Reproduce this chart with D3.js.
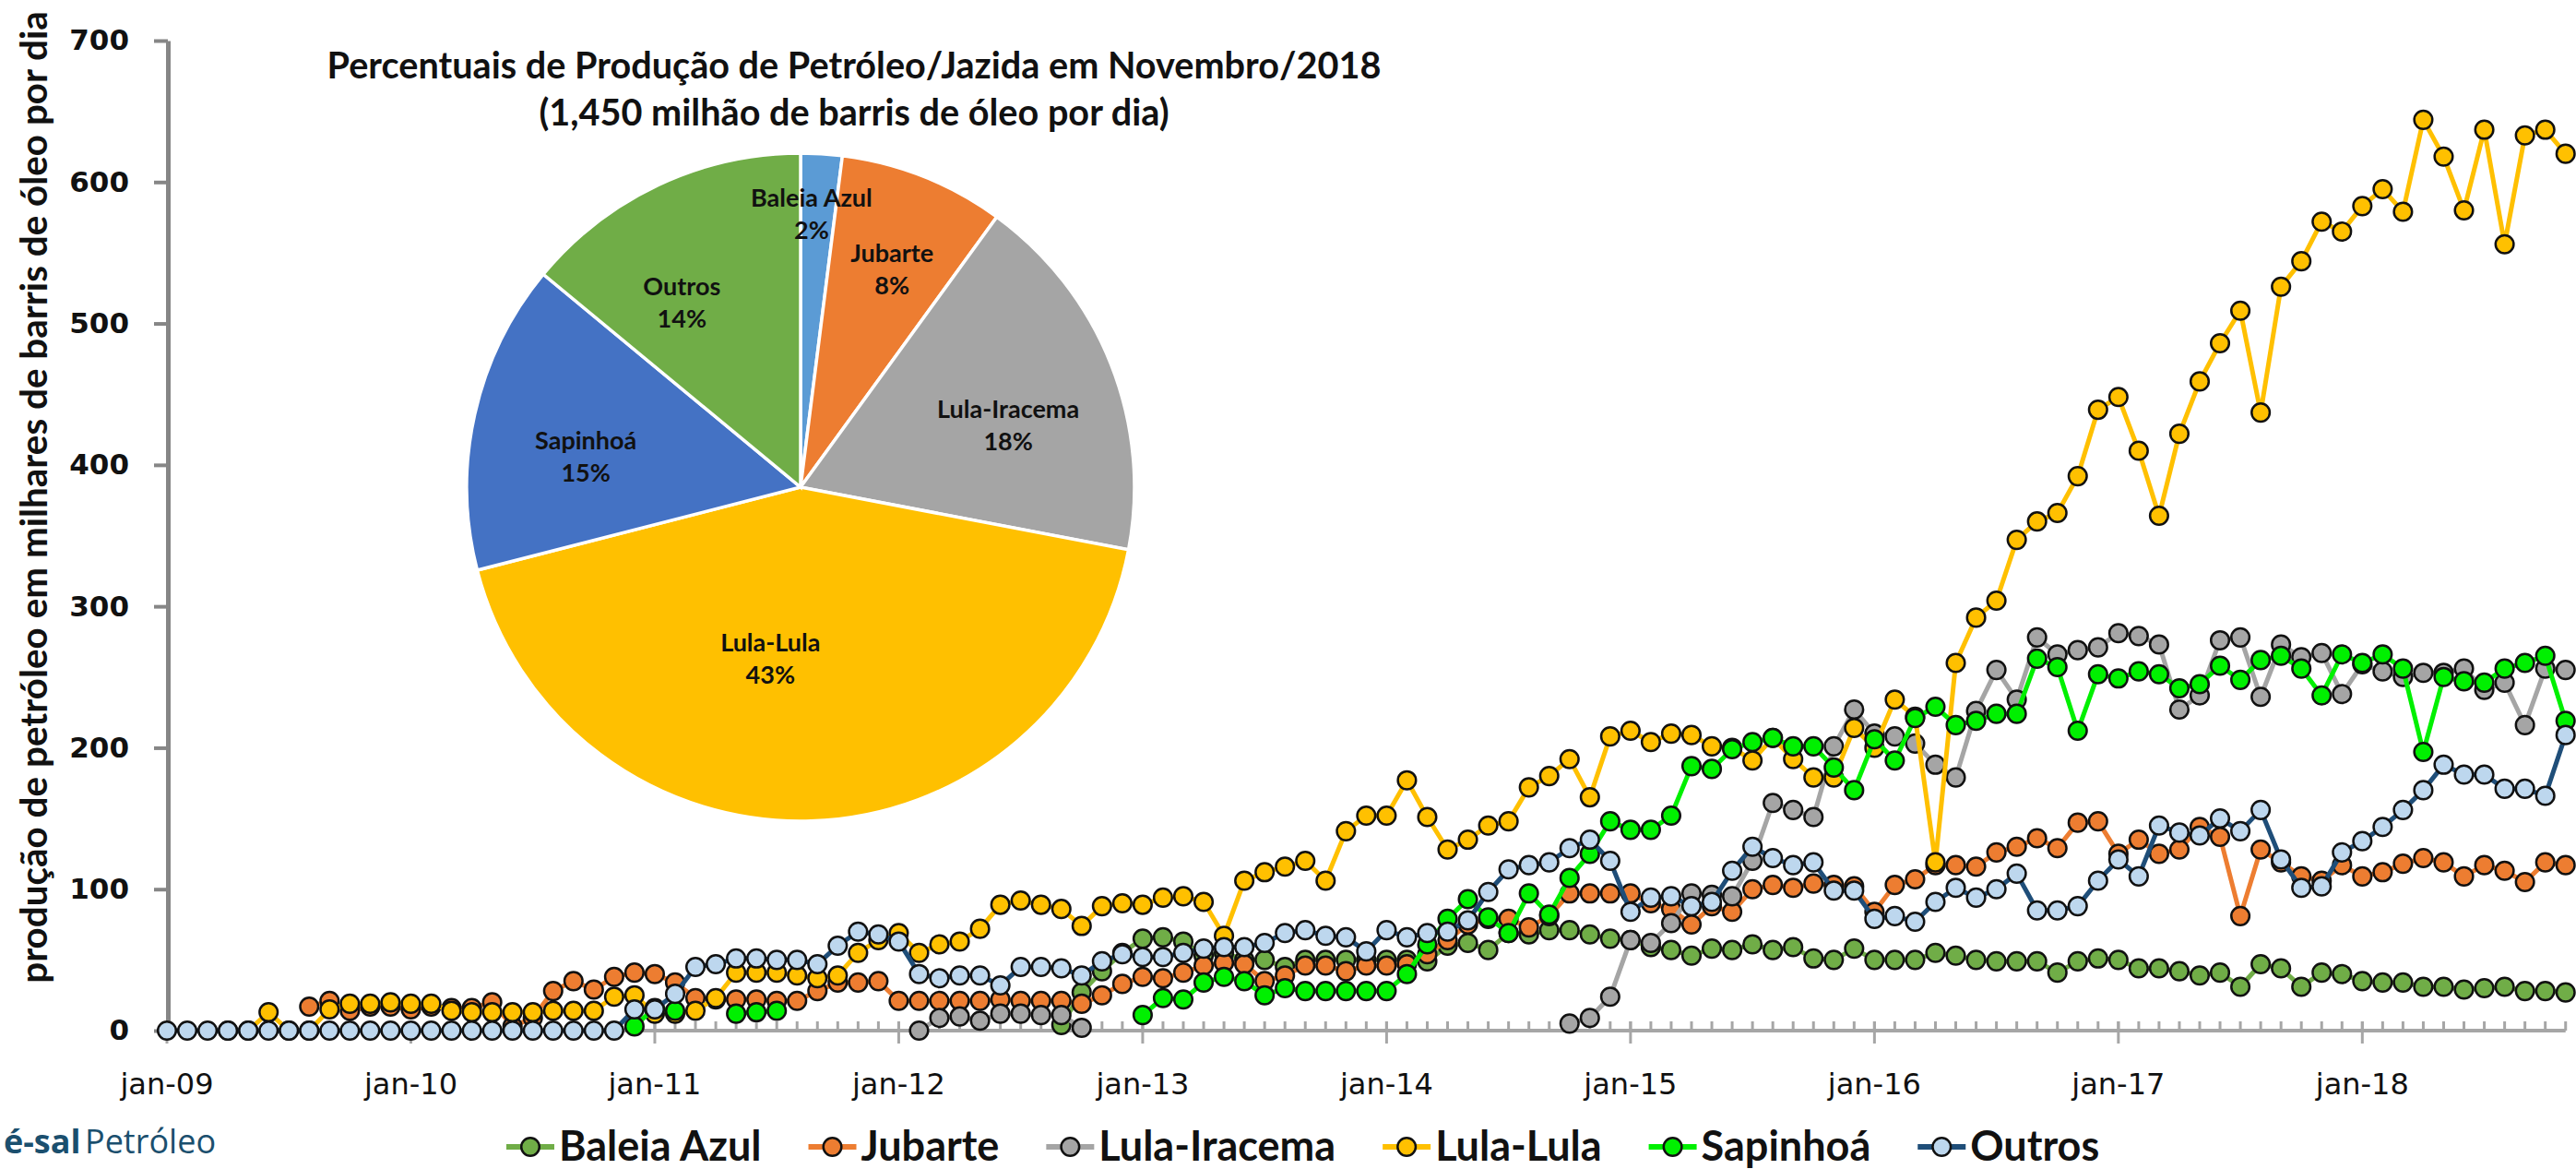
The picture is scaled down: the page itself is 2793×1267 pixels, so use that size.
<!DOCTYPE html>
<html><head><meta charset="utf-8">
<script src="https://cdn.jsdelivr.net/npm/d3@7/dist/d3.min.js"></script>
<style>body{margin:0;background:#fff;} svg{display:block;}</style>
</head><body>
<svg id="chart" width="2793" height="1267"></svg>
<script>
// ---------------- DATA ----------------
// months: jan-09 (0) .. nov-18 (118)
const monthCount = 119;
const xTickLabels = ["jan-09","jan-10","jan-11","jan-12","jan-13","jan-14","jan-15","jan-16","jan-17","jan-18"];
const yTicks = [0,100,200,300,400,500,600,700];
const seriesNames = ["Baleia Azul","Jubarte","Lula-Iracema","Lula-Lula","Sapinhoá","Outros"];

const baleiaAzul = [...Array(44).fill(null),
  4,27,42,55,65,66,63,53,55,50,
  50,45,50,50,50,50,50,50,49,60,
  62,57,69,68,71,71,68,65,64,59,
  57,53,58,57,61,57,59,51,50,58,
  50,50,50,55,53,50,49,49,49,41,
  49,51,50,44,44,42,39,41,31,47,
  44,31,41,40,35,34,34,31,31,29,
  30,31,28,28,27];
const jubarte = [...Array(7).fill(null),
  17,21,14,17,17,15,17,16,16,20,
  3,9,28,35,29,38,41,40,34,23,
  22,22,22,21,21,28,34,34,35,21,
  21,21,21,21,22,21,21,21,19,25,
  33,38,37,41,46,48,47,35,39,46,
  46,42,46,46,47,54,64,75,79,79,
  73,81,97,97,97,97,90,86,75,88,
  84,100,103,101,104,103,102,84,103,107,
  117,117,116,126,130,136,129,147,148,125,
  135,125,128,144,137,81,128,119,109,106,
  117,109,112,118,122,119,109,117,113,105,
  119,117];
const lulaIracema = [...Array(37).fill(null),
  0,9,10,7,12,12,11,11,2,
  ...Array(23).fill(null),
  5,9,24,64,62,76,97,96,95,120,
  161,156,151,201,227,210,208,203,188,179,
  226,255,234,278,266,269,271,281,279,273,
  227,237,276,278,236,273,264,267,238,259,
  254,250,253,253,256,241,246,216,256,255];
const lulaLula = [null,null,null,
  0,0,13,0,0,15,19,19,20,19,
  19,14,13,13,13,13,14,14,14,24,
  25,12,12,14,23,41,41,41,39,37,
  39,55,64,69,55,61,63,72,89,92,
  89,86,74,88,90,89,94,95,91,67,
  106,112,116,120,106,141,152,152,177,151,
  128,135,145,148,172,180,192,165,208,212,
  204,210,209,201,200,191,207,192,179,179,
  214,200,234,222,119,260,292,304,347,360,
  366,392,439,448,410,364,422,459,486,509,
  437,526,544,572,565,583,595,579,644,618,
  580,637,556,633,637,620];
const sapinhoa = [...Array(23).fill(null),
  3,16,14,null,null,12,13,14,
  ...Array(17).fill(null),
  11,23,22,34,38,35,25,30,28,28,
  28,28,28,40,61,79,93,80,69,97,
  82,108,125,148,142,142,152,187,185,199,
  204,207,201,201,186,170,206,191,221,229,
  216,219,224,224,263,257,212,252,249,254,
  252,242,245,258,248,262,265,256,237,266,
  260,266,256,197,250,247,246,256,260,265,219];
const outros = [0,0,0,0,0,0,0,0,0,0,0,0,0,0,0,0,0,0,0,0,0,0,0,
  15,15,26,45,47,51,51,50,50,47,
  60,70,68,63,40,37,39,39,32,45,
  45,44,39,49,54,52,52,55,58,59,
  59,62,69,71,67,66,56,71,66,69,
  70,78,98,114,117,119,129,135,120,84,
  94,95,88,91,113,130,122,117,119,99,
  99,79,81,77,91,101,94,100,111,85,
  85,88,106,121,109,145,140,138,150,141,
  156,121,101,102,126,134,144,156,170,188,
  181,181,171,171,166,209];

const pieNames = ["Baleia Azul","Jubarte","Lula-Iracema","Lula-Lula","Sapinhoá","Outros"];
const pieValues = [2,8,18,43,15,14];
const pieTitle1 = "Percentuais de Produção de Petróleo/Jazida em Novembro/2018";
const pieTitle2 = "(1,450 milhão de barris de óleo por dia)";
const yTitle = "produção de petróleo em milhares de barris de óleo por dia";
const logoBold = "é-sal";
const logoRegular = "Petróleo";

// ---------------- STYLE / LAYOUT ----------------
const lineColors = ["#70AD47","#ED7D31","#A5A5A5","#FFC000","#00F000","#1F4E79"];
const fillColors = ["#70AD47","#ED7D31","#A5A5A5","#FFC000","#00F000","#BDD7EE"];
const pieColors  = ["#5B9BD5","#ED7D31","#A5A5A5","#FFC000","#4472C4","#70AD47"];
// label placement inside pie (angle in degrees clockwise from top, radius as fraction of R)
const pieLabelPlace = [[2.3,0.82],[22.7,0.71],[73.1,0.65],[190,0.52],[278.3,0.65],[327.4,0.66]];

const allSeries = [baleiaAzul, jubarte, lulaIracema, lulaLula, sapinhoa, outros];

const svg = d3.select("#chart");
const W = 2793, H = 1267;
svg.append("rect").attr("width",W).attr("height",H).attr("fill","#fff");

const x = d3.scaleLinear().domain([0, 118]).range([181, 181 + 118*22.04]);
const y = d3.scaleLinear().domain([0, 700]).range([1117, 44]);

function fit(sel, target){
  const fs = parseFloat(sel.attr("font-size"));
  const w = sel.node().getComputedTextLength();
  sel.attr("font-size", fs*target/w);
  return fs*target/w;
}

// ---- X axis (drawn first, under markers)
const months = d3.range(monthCount);
const yearMonths = months.filter(m => m % 12 === 0);
const xg = svg.append("g");
xg.append("line").attr("x1", x(0)).attr("x2", x(118)).attr("y1", y(0)).attr("y2", y(0))
  .attr("stroke","#A6A6A6").attr("stroke-width",4);
xg.selectAll("line.minor").data(months).join("line").attr("class","minor")
  .attr("x1", d=>x(d)).attr("x2", d=>x(d)).attr("y1", y(0)-10).attr("y2", y(0))
  .attr("stroke","#A6A6A6").attr("stroke-width",3);
xg.selectAll("line.major").data(yearMonths).join("line").attr("class","major")
  .attr("x1", d=>x(d)).attr("x2", d=>x(d)).attr("y1", y(0)-10).attr("y2", y(0)+14)
  .attr("stroke","#A6A6A6").attr("stroke-width",3);
xg.selectAll("text").data(yearMonths).join("text")
  .attr("x", d=>x(d)).attr("y", 1186).attr("text-anchor","middle")
  .attr("font-family","DejaVu Sans, Verdana, sans-serif").attr("font-size",32).attr("fill","#111")
  .text((d,i)=>xTickLabels[i]);

// ---- Y axis
const yAxis = d3.axisLeft(y).tickValues(yTicks).tickSize(15).tickSizeOuter(0).tickPadding(27);
const yg = svg.append("g").attr("transform","translate(182,0)").call(yAxis);
yg.select(".domain").attr("stroke","#868686").attr("stroke-width",5);
yg.selectAll(".tick line").attr("stroke","#868686").attr("stroke-width",4);
yg.selectAll(".tick text").attr("font-family","DejaVu Sans, Verdana, sans-serif")
  .attr("font-weight","bold").attr("font-size",31).attr("fill","#111");

// y title
const yt = svg.append("text").attr("transform","translate(51,539) rotate(-90)")
  .attr("text-anchor","middle").attr("font-family","Lato, sans-serif").attr("font-weight","bold")
  .attr("font-size",34).attr("fill","#111").text(yTitle);
fit(yt, 1054);

// ---- Series
const lineGen = d3.line().defined(d => d != null).x((d,i)=>x(i)).y(d=>y(d));
allSeries.forEach((data, si) => {
  const g = svg.append("g");
  g.append("path").datum(data).attr("d", lineGen).attr("fill","none")
    .attr("stroke", lineColors[si]).attr("stroke-width",5).attr("stroke-linejoin","round");
  g.selectAll("circle").data(data.map((v,i)=>({v,i})).filter(d=>d.v!=null)).join("circle")
    .attr("cx", d=>x(d.i)).attr("cy", d=>y(d.v)).attr("r", 9.8)
    .attr("fill", fillColors[si]).attr("stroke","#111").attr("stroke-width",2.5);
});

// ---- Pie
const R = 362, pcx = 868, pcy = 528;
const pg = svg.append("g").attr("transform",`translate(${pcx},${pcy})`);
const pie = d3.pie().sort(null).value(d=>d);
const arc = d3.arc().innerRadius(0).outerRadius(R);
const arcs = pie(pieValues);
pg.selectAll("path").data(arcs).join("path").attr("d", arc)
  .attr("fill",(d,i)=>pieColors[i]).attr("stroke","#fff").attr("stroke-width",3.5);
const pl = pg.selectAll("g.lbl").data(arcs).join("g").attr("class","lbl")
  .attr("transform",(d,i)=>{
    const a = pieLabelPlace[i][0]*Math.PI/180, r = pieLabelPlace[i][1]*R;
    return `translate(${r*Math.sin(a)},${-r*Math.cos(a)})`;
  });
pl.append("text").attr("y",-7).attr("text-anchor","middle").attr("font-family","Lato, sans-serif")
  .attr("font-weight","bold").attr("font-size",27).attr("fill","#111").text((d,i)=>pieNames[i]);
pl.append("text").attr("y",28).attr("text-anchor","middle").attr("font-family","Lato, sans-serif")
  .attr("font-weight","bold").attr("font-size",27).attr("fill","#111").text(d=>d.value+"%");

// pie title
const t1 = svg.append("text").attr("x",926).attr("y",85).attr("text-anchor","middle")
  .attr("font-family","Lato, sans-serif").attr("font-weight","bold").attr("font-size",38)
  .attr("fill","#111").text(pieTitle1);
const tfs = fit(t1, 1143);
svg.append("text").attr("x",926).attr("y",136).attr("text-anchor","middle")
  .attr("font-family","Lato, sans-serif").attr("font-weight","bold").attr("font-size",tfs)
  .attr("fill","#111").text(pieTitle2);

// ---- Legend
const lg = svg.append("g");
let lx = 549; const ly = 1243;
const legFs = 45;
seriesNames.forEach((name, si) => {
  lg.append("line").attr("x1",lx).attr("x2",lx+52).attr("y1",ly).attr("y2",ly)
    .attr("stroke",lineColors[si]).attr("stroke-width",6);
  lg.append("circle").attr("cx",lx+26).attr("cy",ly).attr("r",9.8)
    .attr("fill",fillColors[si]).attr("stroke","#111").attr("stroke-width",2.5);
  const t = lg.append("text").attr("x",lx+57).attr("y",ly+15).attr("font-family","Lato, sans-serif")
    .attr("font-weight","bold").attr("font-size",legFs).attr("fill","#111").text(name);
  lx = lx + 57 + t.node().getComputedTextLength() + 51;
});

// ---- Logo fragment (bottom-left corner)
svg.append("text").attr("x",4).attr("y",1250).attr("font-family","Open Sans, sans-serif")
  .attr("font-size",36).attr("font-weight","bold").attr("fill","#1B4F6E").text(logoBold);
svg.append("text").attr("x",92).attr("y",1250).attr("font-family","Open Sans, sans-serif")
  .attr("font-size",36).attr("fill","#1B4F6E").text(logoRegular);
</script>
</body></html>
